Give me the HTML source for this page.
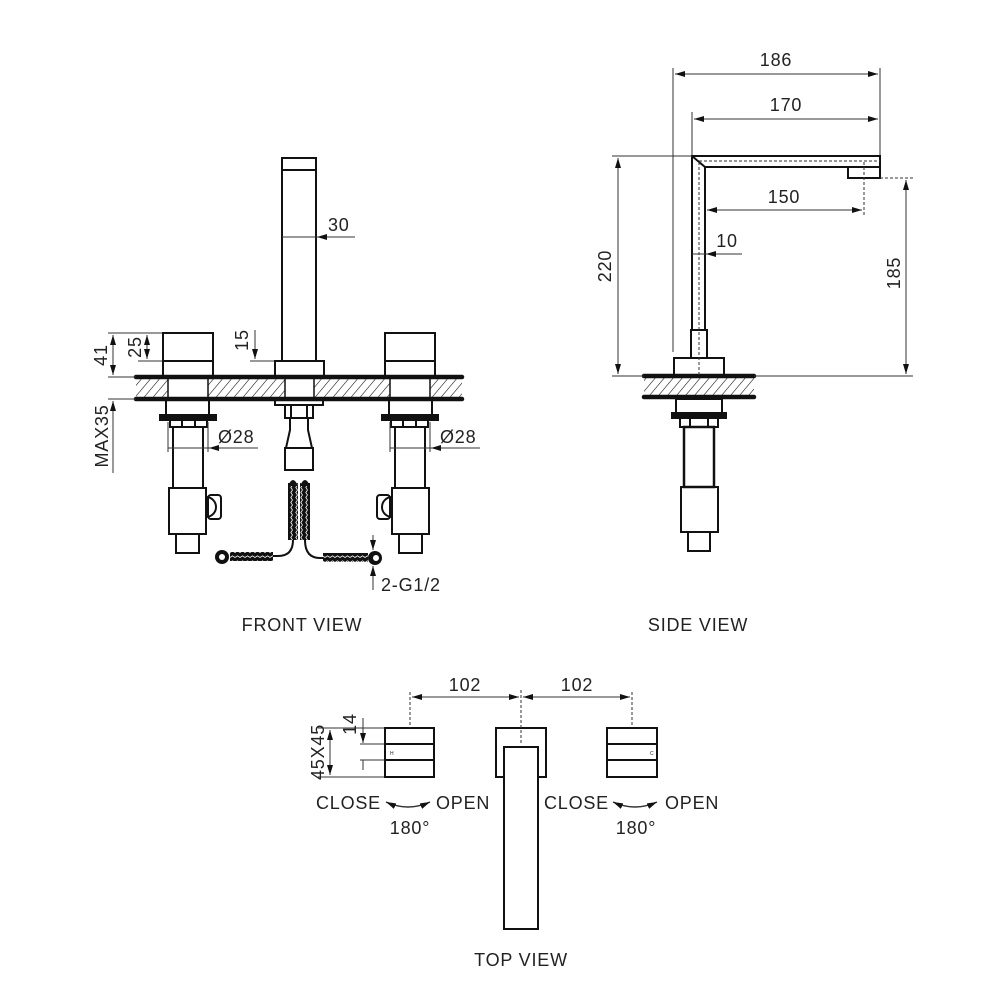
<!DOCTYPE html>
<html><head><meta charset="utf-8"><style>
html,body{margin:0;padding:0;background:#fff}
svg{display:block}
text{font-family:"Liberation Sans",sans-serif;fill:#222;letter-spacing:0.8px}
</style></head><body>
<svg width="1000" height="1000" viewBox="0 0 1000 1000" xmlns="http://www.w3.org/2000/svg">
<defs>
<marker id="a" viewBox="0 0 10 6" refX="10" refY="3" markerWidth="10" markerHeight="6" orient="auto-start-reverse" markerUnits="userSpaceOnUse"><path d="M0,0L10,3L0,6z" fill="#111"/></marker>
<pattern id="h" width="9" height="22" patternUnits="userSpaceOnUse" patternTransform="skewX(-40)"><line x1="0" y1="0" x2="0" y2="22" stroke="#111" stroke-width="1.5"/></pattern>
<pattern id="br" width="5" height="5" patternUnits="userSpaceOnUse"><rect width="5" height="5" fill="#111"/><path d="M0,2.5L2.5,0.8L5,2.5" stroke="#fff" stroke-width="0.8" fill="none"/></pattern>
<pattern id="bv" width="5" height="5" patternUnits="userSpaceOnUse"><rect width="5" height="5" fill="#111"/><path d="M2.5,0L0.8,2.5L2.5,5" stroke="#fff" stroke-width="0.8" fill="none"/></pattern>
</defs>

<g fill="none" stroke="#111" stroke-width="2">
<rect x="136" y="378" width="326" height="20" fill="url(#h)" stroke="none"/>
<rect x="168" y="378" width="40" height="20" fill="#fff" stroke="none"/>
<rect x="390" y="378" width="40" height="20" fill="#fff" stroke="none"/>
<rect x="285" y="378" width="29" height="20" fill="#fff" stroke="none"/>
<line x1="136" y1="377" x2="462" y2="377" stroke-width="4.5" stroke-linecap="round"/>
<line x1="136" y1="399" x2="462" y2="399" stroke-width="4.5" stroke-linecap="round"/>
<line x1="168" y1="378" x2="168" y2="398" stroke-width="1.5"/><line x1="208" y1="378" x2="208" y2="398" stroke-width="1.5"/>
<line x1="390" y1="378" x2="390" y2="398" stroke-width="1.5"/><line x1="430" y1="378" x2="430" y2="398" stroke-width="1.5"/>
<line x1="285" y1="378" x2="285" y2="398" stroke-width="1.5"/><line x1="314" y1="378" x2="314" y2="398" stroke-width="1.5"/>
<rect x="282" y="158" width="34" height="203"/>
<line x1="282" y1="170" x2="316" y2="170"/>
<rect x="275" y="361" width="49" height="15"/>
<g id="lh">
<rect x="163" y="333" width="50" height="43"/>
<line x1="163" y1="361" x2="213" y2="361"/>
<rect x="166" y="400" width="43" height="15"/>
<rect x="160" y="415" width="56" height="5" fill="#111"/>
<rect x="170" y="420" width="37" height="7"/>
<line x1="182" y1="420" x2="182" y2="427"/><line x1="195" y1="420" x2="195" y2="427"/>
<rect x="173" y="427" width="30" height="61"/>
<rect x="169" y="488" width="37" height="46"/>
<path d="M206,497 A10,10 0 0 1 206,517"/>
<rect x="208" y="495" width="13" height="24" rx="3"/>
<rect x="176" y="534" width="23" height="19"/>
</g>
<use href="#lh" transform="translate(598,0) scale(-1,1)"/>
<rect x="275" y="400" width="48" height="5"/>
<rect x="285" y="405" width="28" height="13"/>
<line x1="291" y1="405" x2="291" y2="418"/><line x1="307" y1="405" x2="307" y2="418"/>
<path d="M290,418 L290,430 L286,448 M308,418 L308,430 L312,448"/>
<rect x="285" y="448" width="28" height="22"/>
<rect x="288" y="483" width="10" height="57" fill="url(#bv)" stroke="none"/>
<rect x="300" y="483" width="10" height="57" fill="url(#bv)" stroke="none"/>
<path d="M288,486 Q293,474 298,486 Z M300,486 Q305,474 310,486 Z" fill="#111" stroke="none"/>
<path d="M293,540 Q293,556 278,556 L272,556 M305,540 Q305,558 320,558 L323,558"/>
<rect x="230" y="552" width="43" height="9" fill="url(#br)" stroke="none"/>
<rect x="323" y="553" width="45" height="9" fill="url(#br)" stroke="none"/>
<circle cx="222" cy="557" r="7" fill="#111" stroke="none"/><circle cx="222" cy="557" r="3" fill="#fff" stroke="none"/>
<circle cx="375" cy="558" r="7" fill="#111" stroke="none"/><circle cx="376" cy="558" r="3" fill="#fff" stroke="none"/>
</g>

<g fill="none" stroke="#333" stroke-width="1">
<line x1="108" y1="333" x2="162" y2="333"/><line x1="108" y1="377" x2="136" y2="377"/><line x1="108" y1="399" x2="136" y2="399"/>
<line x1="138" y1="361" x2="162" y2="361"/>
<line x1="113" y1="335" x2="113" y2="375" marker-start="url(#a)" marker-end="url(#a)"/>
<line x1="147" y1="335" x2="147" y2="359" marker-start="url(#a)" marker-end="url(#a)"/>
<line x1="113" y1="473" x2="113" y2="401" marker-end="url(#a)"/>
<line x1="255" y1="330" x2="255" y2="359" marker-end="url(#a)"/>
<line x1="250" y1="361" x2="274" y2="361"/>
<line x1="282" y1="237" x2="355" y2="237"/><line x1="355" y1="237" x2="317" y2="237" marker-end="url(#a)"/>
<line x1="168" y1="422" x2="168" y2="452"/><line x1="208" y1="422" x2="208" y2="452"/>
<line x1="168" y1="448" x2="258" y2="448"/><line x1="258" y1="448" x2="209" y2="448" marker-end="url(#a)"/>
<line x1="390" y1="422" x2="390" y2="452"/><line x1="430" y1="422" x2="430" y2="452"/>
<line x1="390" y1="448" x2="480" y2="448"/><line x1="480" y1="448" x2="431" y2="448" marker-end="url(#a)"/>
<line x1="373" y1="535" x2="373" y2="550" marker-end="url(#a)"/>
<line x1="373" y1="590" x2="373" y2="566" marker-end="url(#a)"/>
</g>
<g font-size="18">
<text x="328" y="231">30</text>
<text x="218" y="443">Ø28</text>
<text x="440" y="443">Ø28</text>
<text x="381" y="591">2-G1/2</text>
<text transform="translate(107,355) rotate(-90)" text-anchor="middle">41</text>
<text transform="translate(141,347) rotate(-90)" text-anchor="middle">25</text>
<text transform="translate(248,340) rotate(-90)" text-anchor="middle">15</text>
<text transform="translate(108,436) rotate(-90)" text-anchor="middle">MAX35</text>
<text x="302" y="631" text-anchor="middle">FRONT VIEW</text>
<text x="698" y="631" text-anchor="middle">SIDE VIEW</text>
<text x="521" y="966" text-anchor="middle">TOP VIEW</text>
</g>

<g fill="none" stroke="#111" stroke-width="2">
<rect x="644" y="378" width="110" height="20" fill="url(#h)" stroke="none"/>
<line x1="644" y1="376" x2="754" y2="376" stroke-width="4.5" stroke-linecap="round"/>
<line x1="644" y1="397" x2="754" y2="397" stroke-width="4.5" stroke-linecap="round"/>
<path d="M692,330 L692,156 L880,156 L880,167 L705,167 L705,330"/>
<line x1="692" y1="156" x2="705" y2="167"/>
<rect x="848" y="167" width="32" height="11"/>
<rect x="691" y="330" width="16" height="28"/>
<rect x="674" y="358" width="50" height="18"/>
<rect x="676" y="399" width="46" height="14"/>
<rect x="672" y="413" width="54" height="5" fill="#111"/>
<rect x="680" y="418" width="38" height="9"/>
<line x1="690" y1="418" x2="690" y2="427"/><line x1="708" y1="418" x2="708" y2="427"/>
<rect x="684" y="427" width="30" height="60" stroke-width="2.5"/>
<rect x="681" y="487" width="37" height="45"/>
<rect x="688" y="532" width="22" height="19"/>
</g>
<g fill="none" stroke="#333" stroke-width="1">
<path d="M699,162 L699,376 M699,161 L880,161 M864,162 L864,216 M880,178 L913,178" stroke-dasharray="3,2"/>
<line x1="673" y1="68" x2="673" y2="352"/><line x1="880" y1="68" x2="880" y2="155"/>
<line x1="692" y1="112" x2="692" y2="155"/>
<line x1="675" y1="74" x2="878" y2="74" marker-start="url(#a)" marker-end="url(#a)"/>
<line x1="694" y1="119" x2="878" y2="119" marker-start="url(#a)" marker-end="url(#a)"/>
<line x1="612" y1="156" x2="692" y2="156"/><line x1="612" y1="376" x2="644" y2="376"/><line x1="754" y1="376" x2="913" y2="376"/>
<line x1="618" y1="158" x2="618" y2="374" marker-start="url(#a)" marker-end="url(#a)"/>
<line x1="906" y1="180" x2="906" y2="374" marker-start="url(#a)" marker-end="url(#a)"/>
<line x1="707" y1="210" x2="862" y2="210" marker-start="url(#a)" marker-end="url(#a)"/>
<line x1="692" y1="254" x2="742" y2="254"/><line x1="742" y1="254" x2="706" y2="254" marker-end="url(#a)"/>
</g>
<g font-size="18">
<text x="776" y="66" text-anchor="middle">186</text>
<text x="786" y="111" text-anchor="middle">170</text>
<text x="784" y="203" text-anchor="middle">150</text>
<text x="727" y="247" text-anchor="middle">10</text>
<text transform="translate(611,266) rotate(-90)" text-anchor="middle">220</text>
<text transform="translate(900,273) rotate(-90)" text-anchor="middle">185</text>
</g>

<g fill="none" stroke="#111" stroke-width="2">
<rect x="385" y="728" width="49" height="49"/>
<line x1="385" y1="744" x2="434" y2="744"/><line x1="385" y1="760" x2="434" y2="760"/>
<rect x="607" y="728" width="50" height="49"/>
<line x1="607" y1="744" x2="657" y2="744"/><line x1="607" y1="760" x2="657" y2="760"/>
<path d="M504,777 L496,777 L496,728 L546,728 L546,777 L538,777"/>
<rect x="504" y="747" width="34" height="182" fill="#fff"/>
</g>
<g fill="none" stroke="#333" stroke-width="1">
<path d="M410,692 L410,728 M521,690 L521,745 M632,692 L632,725" stroke-dasharray="3,2"/>
<line x1="412" y1="697" x2="519" y2="697" marker-start="url(#a)" marker-end="url(#a)"/>
<line x1="523" y1="697" x2="630" y2="697" marker-start="url(#a)" marker-end="url(#a)"/>
<line x1="318" y1="728" x2="384" y2="728"/><line x1="318" y1="777" x2="384" y2="777"/>
<line x1="330" y1="730" x2="330" y2="775" marker-start="url(#a)" marker-end="url(#a)"/>
<line x1="360" y1="744" x2="384" y2="744"/><line x1="360" y1="760" x2="384" y2="760"/>
<line x1="363" y1="718" x2="363" y2="743" marker-end="url(#a)"/>
<line x1="363" y1="760" x2="363" y2="770"/>
<path d="M386,802 Q408,812 430,802" marker-start="url(#a)" marker-end="url(#a)" stroke-width="1.5"/>
<path d="M613,802 Q635,812 657,802" marker-start="url(#a)" marker-end="url(#a)" stroke-width="1.5"/>
</g>
<g font-size="18">
<text x="465" y="691" text-anchor="middle">102</text>
<text x="577" y="691" text-anchor="middle">102</text>
<text transform="translate(324,752) rotate(-90)" text-anchor="middle">45X45</text>
<text transform="translate(356,724) rotate(-90)" text-anchor="middle">14</text>
<text x="381" y="809" text-anchor="end">CLOSE</text>
<text x="436" y="809">OPEN</text>
<text x="410" y="834" text-anchor="middle">180°</text>
<text x="609" y="809" text-anchor="end">CLOSE</text>
<text x="665" y="809">OPEN</text>
<text x="636" y="834" text-anchor="middle">180°</text>
<text x="390" y="755" font-size="5">H</text>
<text x="650" y="755" font-size="5">C</text>
</g>
</svg>
</body></html>
